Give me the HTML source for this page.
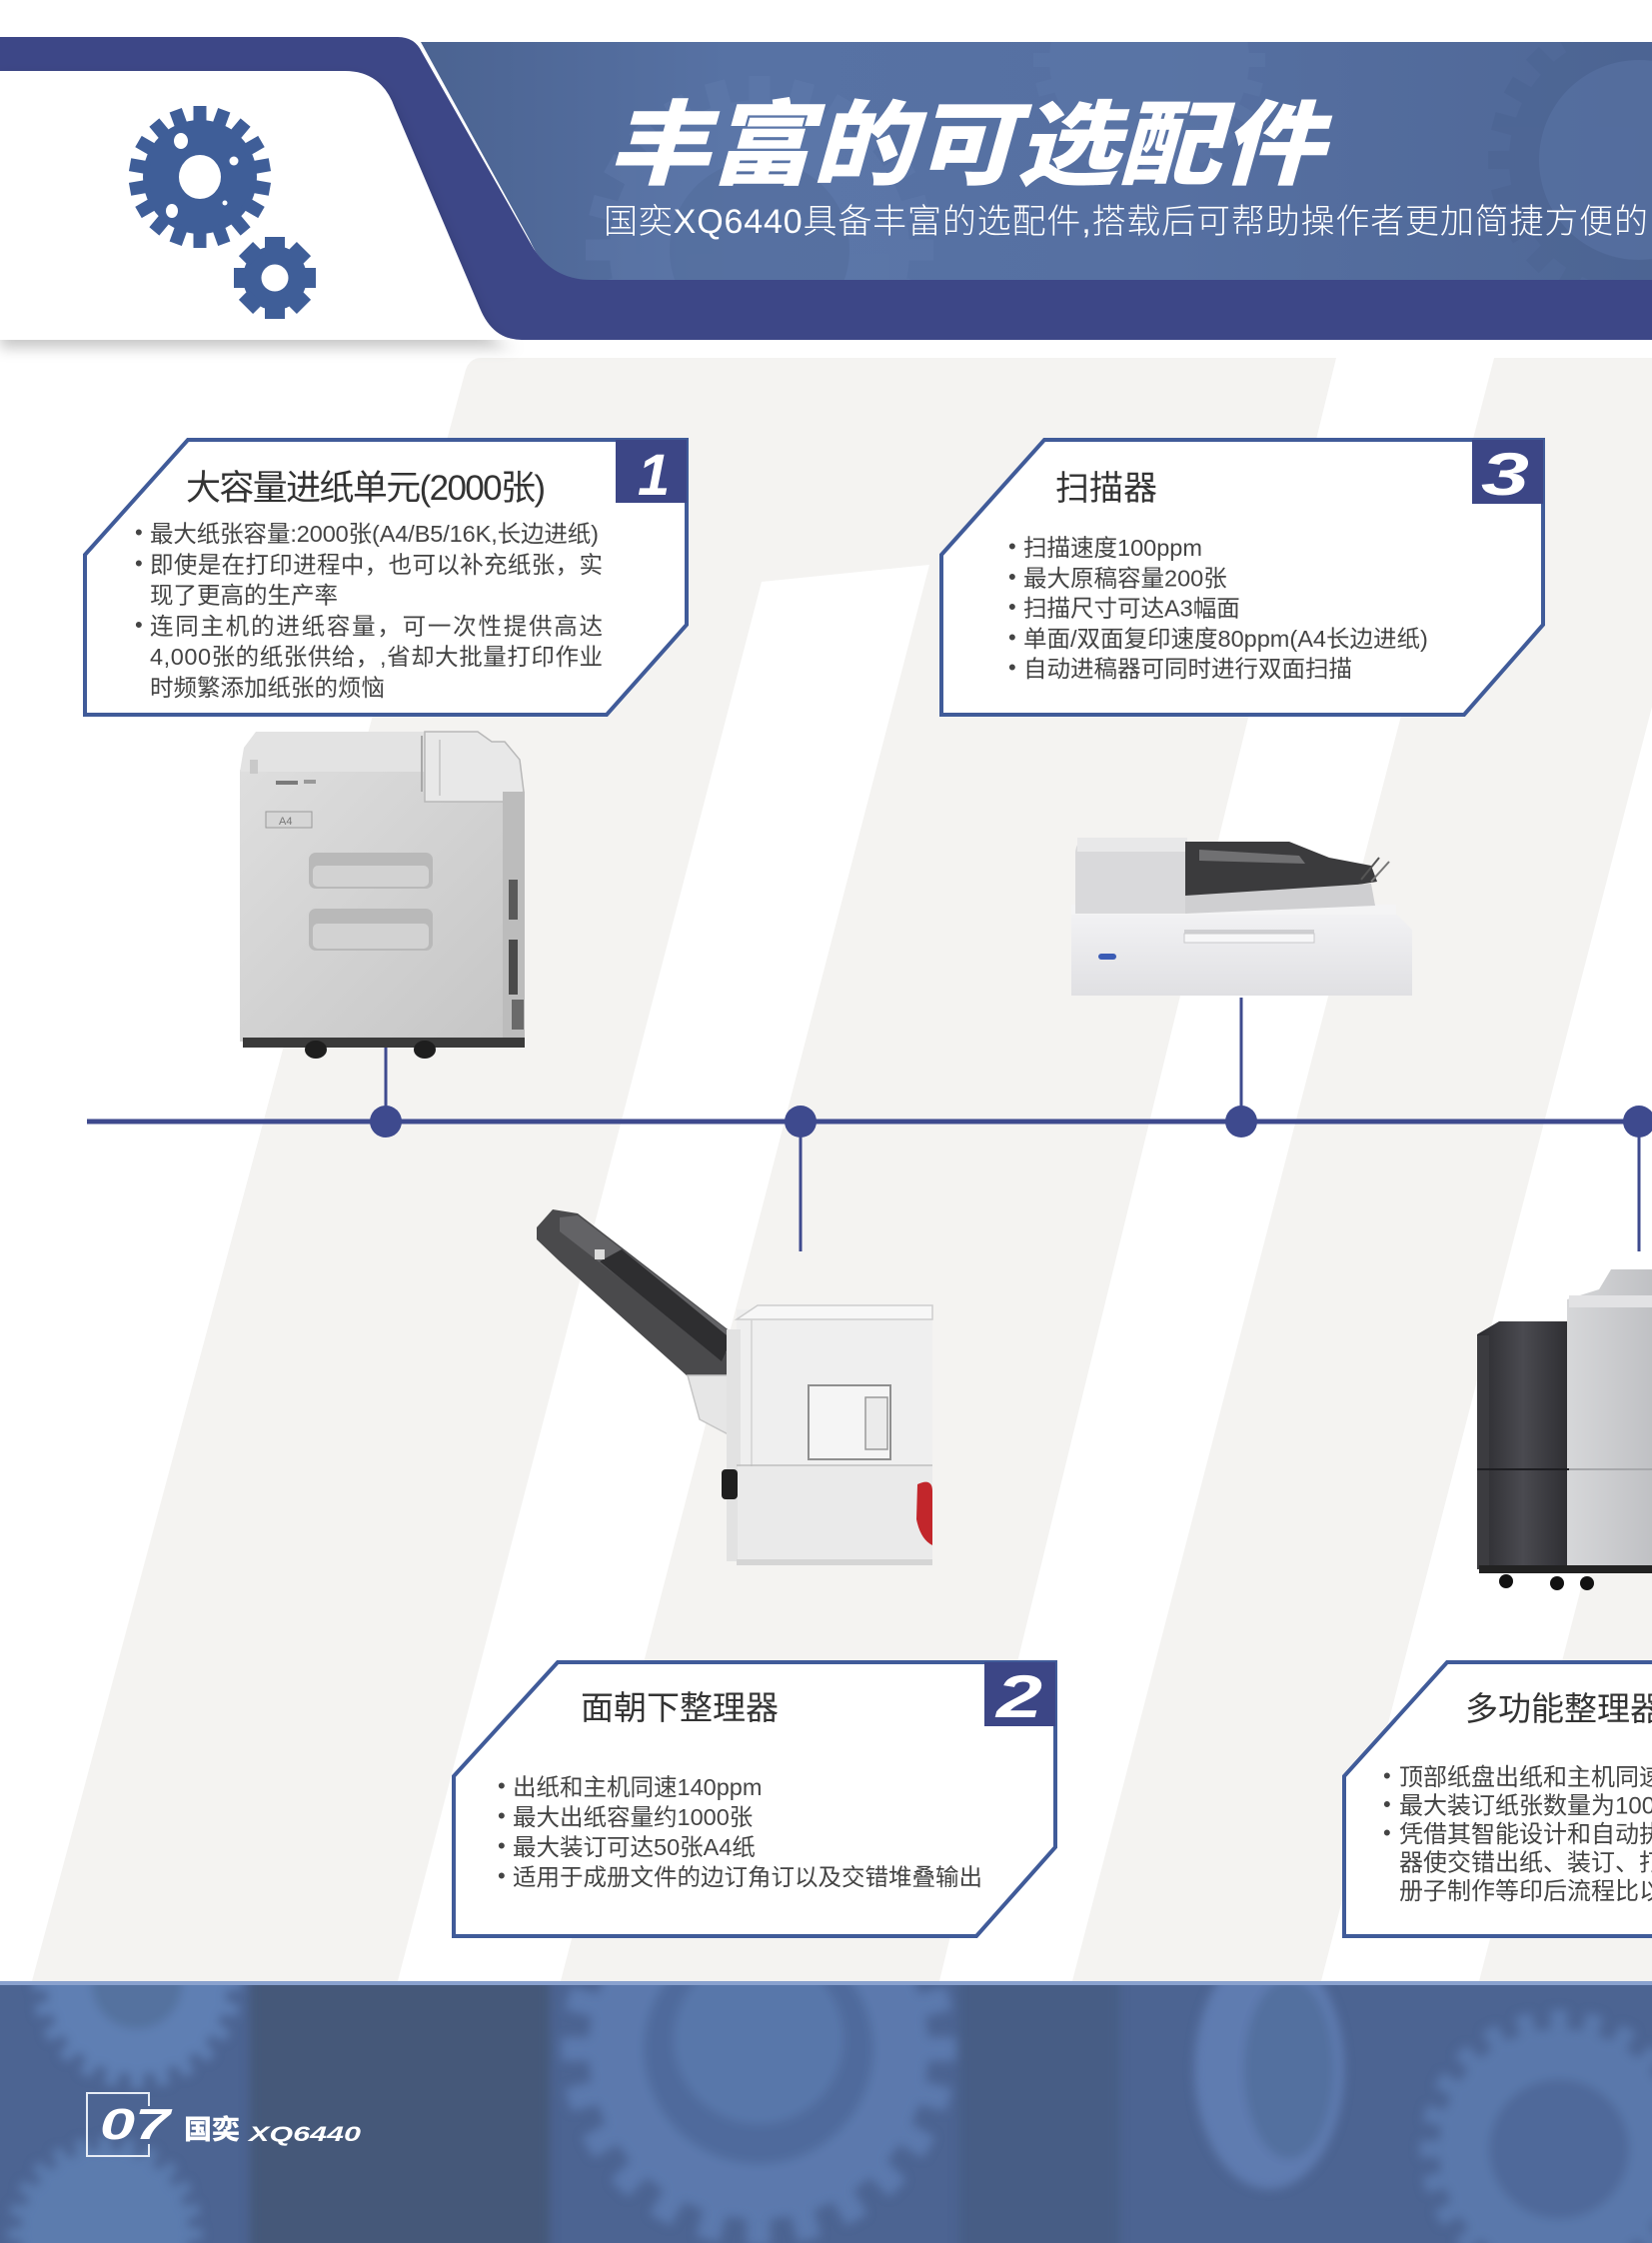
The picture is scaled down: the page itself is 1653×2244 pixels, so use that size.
<!DOCTYPE html>
<html><head><meta charset="utf-8">
<style>
html,body{margin:0;padding:0;background:#fff;width:1653px;height:2244px;overflow:hidden;}
body{position:relative;}
svg{display:block;position:absolute;left:0;top:0;}
text{font-family:"Liberation Sans","Noto Sans CJK SC",sans-serif;}
</style></head><body>
<svg width="1653" height="2244" viewBox="0 0 1653 2244" xmlns="http://www.w3.org/2000/svg">
<defs>
 <filter id="sh" x="-10%" y="-10%" width="130%" height="140%"><feDropShadow dx="0" dy="8" stdDeviation="7" flood-color="#000" flood-opacity="0.22"/></filter>
 <filter id="blur" x="-5%" y="-5%" width="110%" height="110%"><feGaussianBlur stdDeviation="5"/></filter>
 <linearGradient id="photo" x1="0" y1="0" x2="1" y2="0">
   <stop offset="0" stop-color="#4b6391"/>
   <stop offset="0.25" stop-color="#5772a4"/>
   <stop offset="0.6" stop-color="#5670a2"/>
   <stop offset="1" stop-color="#4f6796"/>
 </linearGradient>
 <linearGradient id="g1" x1="0" y1="0" x2="1" y2="1">
   <stop offset="0" stop-color="#dedede"/>
   <stop offset="1" stop-color="#c6c6c6"/>
 </linearGradient>
 <linearGradient id="g4" x1="0" y1="0" x2="1" y2="0">
   <stop offset="0" stop-color="#2b2b2f"/>
   <stop offset="0.5" stop-color="#4a4a50"/>
   <stop offset="1" stop-color="#2e2e32"/>
 </linearGradient>
 <linearGradient id="g4b" x1="0" y1="0" x2="1" y2="0">
   <stop offset="0" stop-color="#d6d7d9"/>
   <stop offset="1" stop-color="#c0c1c4"/>
 </linearGradient>
 <linearGradient id="g3" x1="0" y1="0" x2="0" y2="1">
   <stop offset="0" stop-color="#f2f2f4"/>
   <stop offset="1" stop-color="#e0e0e3"/>
 </linearGradient>
 <rect id="tb" x="-6.5" y="-71" width="13" height="20"/>
 <rect id="ts" x="-10" y="-41" width="20" height="14"/>
 <rect id="tf" x="-14" y="-232" width="28" height="40"/>
 <g id="fgear">
   <circle r="200"/>
   <use href="#tf"/><use href="#tf" transform="rotate(15)"/><use href="#tf" transform="rotate(30)"/><use href="#tf" transform="rotate(45)"/>
   <use href="#tf" transform="rotate(60)"/><use href="#tf" transform="rotate(75)"/><use href="#tf" transform="rotate(90)"/><use href="#tf" transform="rotate(105)"/>
   <use href="#tf" transform="rotate(120)"/><use href="#tf" transform="rotate(135)"/><use href="#tf" transform="rotate(150)"/><use href="#tf" transform="rotate(165)"/>
   <use href="#tf" transform="rotate(180)"/><use href="#tf" transform="rotate(195)"/><use href="#tf" transform="rotate(210)"/><use href="#tf" transform="rotate(225)"/>
   <use href="#tf" transform="rotate(240)"/><use href="#tf" transform="rotate(255)"/><use href="#tf" transform="rotate(270)"/><use href="#tf" transform="rotate(285)"/>
   <use href="#tf" transform="rotate(300)"/><use href="#tf" transform="rotate(315)"/><use href="#tf" transform="rotate(330)"/><use href="#tf" transform="rotate(345)"/>
 </g>
 <clipPath id="photoclip"><path d="M421,42 H1653 V282 H590 Q548,282 530,240 Z"/></clipPath>
 <clipPath id="footclip"><rect x="0" y="1984" width="1653" height="260"/></clipPath>
</defs>

<!-- page background stripes -->
<rect x="0" y="0" width="1653" height="2244" fill="#ffffff"/>
<path d="M482,358 H1337 L940,1982 H32 L466,370 Q470,358 482,358 Z" fill="#f4f3f1"/>
<path d="M762,582 L930,565 L561,1982 L398,1982 Z" fill="#ffffff"/>
<path d="M1495,358 H1653 V707 L1322,1982 H1073 Z" fill="#f4f3f1"/>
<path d="M1653,1315 V1982 H1480 Z" fill="#f4f3f1"/>

<!-- header -->
<path d="M421,42 H1653 V282 H590 Q548,282 530,240 Z" fill="url(#photo)"/>
<g clip-path="url(#photoclip)">
  <g transform="translate(760,250) scale(0.75)" fill="#6681b3" opacity="0.3"><use href="#fgear"/></g>
  <circle cx="760" cy="250" r="90" fill="#4e6696" opacity="0.35"/>
  <g transform="translate(1640,160) scale(0.65)" fill="#4a6290" opacity="0.4"><use href="#fgear"/></g>
  <circle cx="1640" cy="160" r="100" fill="#5b76a8" opacity="0.5"/>
  <g transform="translate(1150,60) scale(0.5)" fill="#6a85b6" opacity="0.2"><use href="#fgear"/></g>
</g>
<path d="M0,37 H398 Q415,37 422,52 L530,242 Q550,280 592,280 H1653 V340 H0 Z" fill="#3d4787"/>
<path d="M0,71 H345 Q382,71 395,108 L480,308 Q493,340 522,340 H0 Z" fill="#ffffff" filter="url(#sh)"/>

<!-- big gear icon -->
<g transform="translate(200,177)" fill="#3f5e98">
  <circle r="57"/>
  <use href="#tb"/><use href="#tb" transform="rotate(20)"/><use href="#tb" transform="rotate(40)"/><use href="#tb" transform="rotate(60)"/>
  <use href="#tb" transform="rotate(80)"/><use href="#tb" transform="rotate(100)"/><use href="#tb" transform="rotate(120)"/><use href="#tb" transform="rotate(140)"/>
  <use href="#tb" transform="rotate(160)"/><use href="#tb" transform="rotate(180)"/><use href="#tb" transform="rotate(200)"/><use href="#tb" transform="rotate(220)"/>
  <use href="#tb" transform="rotate(240)"/><use href="#tb" transform="rotate(260)"/><use href="#tb" transform="rotate(280)"/><use href="#tb" transform="rotate(300)"/>
  <use href="#tb" transform="rotate(320)"/><use href="#tb" transform="rotate(340)"/>
</g>
<ellipse cx="200" cy="177" rx="21" ry="22" fill="#fff"/>
<ellipse cx="181" cy="141" rx="7" ry="8" fill="#fff"/>
<circle cx="234" cy="161" r="4.5" fill="#fff"/>
<ellipse cx="172" cy="211" rx="6" ry="7" fill="#fff"/>
<circle cx="225" cy="203" r="2.5" fill="#fff"/>
<!-- small gear icon -->
<g transform="translate(275,278)" fill="#3f5e98">
  <circle r="32"/>
  <use href="#ts"/><use href="#ts" transform="rotate(45)"/><use href="#ts" transform="rotate(90)"/><use href="#ts" transform="rotate(135)"/>
  <use href="#ts" transform="rotate(180)"/><use href="#ts" transform="rotate(225)"/><use href="#ts" transform="rotate(270)"/><use href="#ts" transform="rotate(315)"/>
</g>
<ellipse cx="275" cy="278" rx="13.5" ry="13.5" fill="#fff"/>

<text x="608" y="177" font-size="92" font-weight="900" font-style="italic" fill="#fff" textLength="716" lengthAdjust="spacingAndGlyphs">丰富的可选配件</text>
<text x="604" y="233" font-size="34" font-weight="300" fill="#fff" textLength="1045" lengthAdjust="spacing">国奕XQ6440具备丰富的选配件,搭载后可帮助操作者更加简捷方便的</text>

<!-- timeline -->
<rect x="87" y="1119.5" width="1566" height="5" fill="#3e4a8e"/>
<line x1="386" y1="1045" x2="386" y2="1122" stroke="#3e4a8e" stroke-width="3"/>
<line x1="801" y1="1122" x2="801" y2="1252" stroke="#3e4a8e" stroke-width="3"/>
<line x1="1242" y1="998" x2="1242" y2="1122" stroke="#3e4a8e" stroke-width="3"/>
<line x1="1640" y1="1122" x2="1640" y2="1252" stroke="#3e4a8e" stroke-width="3"/>
<circle cx="386" cy="1122" r="16" fill="#3e4a8e"/>
<circle cx="801" cy="1122" r="16" fill="#3e4a8e"/>
<circle cx="1242" cy="1122" r="16" fill="#3e4a8e"/>
<circle cx="1640" cy="1122" r="16" fill="#3e4a8e"/>

<!-- printer 1: paper feeder -->
<g>
  <rect x="240" y="770" width="266" height="272" fill="url(#g1)"/>
  <path d="M244,748 L256,732 H430 V772 H240 Z" fill="#e3e3e3"/>
  <path d="M425,732 H478 L492,742 H505 L520,760 L524,792 L508,802 H425 Z" fill="#e8e8e8" stroke="#b8b8b8" stroke-width="1.5"/>
  <line x1="422" y1="736" x2="422" y2="792" stroke="#a8a8a8" stroke-width="2"/>
  <line x1="440" y1="740" x2="440" y2="796" stroke="#c4c4c4" stroke-width="1.5"/>
  <rect x="250" y="760" width="8" height="14" fill="#c9c9c9"/>
  <rect x="276" y="781" width="22" height="4" fill="#7a7a7a"/>
  <rect x="304" y="780" width="12" height="4" fill="#999"/>
  <rect x="266" y="812" width="46" height="16" fill="#d6d6d6" stroke="#9a9a9a" stroke-width="1"/>
  <text x="279" y="825" font-size="11" fill="#777">A4</text>
  <rect x="309" y="853" width="124" height="36" rx="7" fill="#b9b9b9"/>
  <rect x="313" y="866" width="116" height="21" rx="5" fill="#d2d2d2"/>
  <rect x="309" y="909" width="124" height="42" rx="7" fill="#b9b9b9"/>
  <rect x="313" y="924" width="116" height="25" rx="5" fill="#d2d2d2"/>
  <rect x="503" y="792" width="22" height="250" fill="#bcbcbc"/>
  <rect x="509" y="880" width="9" height="40" fill="#5a5a5a"/>
  <rect x="509" y="940" width="9" height="55" fill="#4a4a4a"/>
  <rect x="512" y="1000" width="12" height="30" fill="#6a6a6a"/>
  <rect x="243" y="1038" width="282" height="10" fill="#3a3a3a"/>
  <ellipse cx="316" cy="1050" rx="11" ry="9" fill="#1e1e1e"/>
  <ellipse cx="425" cy="1050" rx="11" ry="9" fill="#1e1e1e"/>
</g>

<!-- printer 3: scanner -->
<g>
  <path d="M1072,912 H1395 L1413,930 V996 H1072 Z" fill="url(#g3)"/>
  <rect x="1072" y="905" width="325" height="10" fill="#f4f4f5"/>
  <path d="M1076,852 Q1078,838 1092,838 H1188 V914 H1076 Z" fill="#d9d9db"/>
  <rect x="1078" y="838" width="110" height="14" fill="#e8e8e9"/>
  <path d="M1186,842 H1290 L1330,858 L1372,866 L1378,882 L1340,888 L1186,900 Z" fill="#3b3b3d"/>
  <path d="M1200,850 L1300,856 L1306,864 L1200,861 Z" fill="#707072"/>
  <path d="M1186,896 L1372,884 L1376,906 L1186,914 Z" fill="#cfcfd1"/>
  <line x1="1362" y1="880" x2="1380" y2="858" stroke="#555" stroke-width="2"/>
  <line x1="1372" y1="882" x2="1390" y2="862" stroke="#777" stroke-width="2"/>
  <rect x="1185" y="930" width="130" height="4" fill="#cfcfd2"/>
  <rect x="1185" y="934" width="130" height="9" fill="#f7f7f8" stroke="#c8c8cb" stroke-width="1"/>
  <rect x="1099" y="954" width="18" height="6" rx="3" fill="#3b5cb5"/>
</g>

<!-- printer 2: face-down finisher -->
<g>
  <path d="M537,1228 L553,1210 L578,1214 L745,1343 L745,1398 L707,1394 L560,1262 L537,1240 Z" fill="#4a4a4c"/>
  <path d="M560,1218 L578,1216 L740,1340 L740,1356 L712,1350 L560,1232 Z" fill="#636366"/>
  <path d="M600,1262 L622,1250 L732,1340 L722,1362 Z" fill="#2e2e30"/>
  <rect x="595" y="1250" width="10" height="10" fill="#dcdcdc"/>
  <path d="M688,1376 H742 V1442 L700,1420 Z" fill="#e6e6e6" stroke="#c6c6c6" stroke-width="1.5"/>
  <rect x="737" y="1310" width="196" height="255" fill="#efefef"/>
  <path d="M737,1320 L758,1306 H933 V1320 Z" fill="#f7f7f7" stroke="#cdcdcd" stroke-width="1.5"/>
  <rect x="727" y="1330" width="14" height="232" fill="#e2e2e2"/>
  <line x1="752" y1="1320" x2="752" y2="1562" stroke="#d2d2d2" stroke-width="1.5"/>
  <rect x="809" y="1386" width="82" height="74" fill="#f5f5f5" stroke="#8f8f8f" stroke-width="2"/>
  <rect x="866" y="1398" width="22" height="52" fill="#ebebeb" stroke="#9a9a9a" stroke-width="1.5"/>
  <line x1="737" y1="1466" x2="933" y2="1466" stroke="#bdbdbd" stroke-width="1.5"/>
  <rect x="738" y="1467" width="195" height="96" fill="#eaeaea"/>
  <path d="M918,1485 Q933,1478 933,1492 V1546 Q921,1540 917,1520 Z" fill="#c2262b"/>
  <rect x="722" y="1470" width="16" height="30" rx="4" fill="#1f1f1f"/>
  <rect x="737" y="1560" width="196" height="6" fill="#d5d5d5"/>
</g>

<!-- printer 4: multifunction finisher -->
<g>
  <path d="M1478,1335 L1500,1322 H1570 V1570 H1478 Z" fill="url(#g4)"/>
  <rect x="1478" y="1336" width="12" height="234" fill="#3c3c40"/>
  <path d="M1568,1300 L1600,1290 L1612,1270 H1653 V1572 H1568 Z" fill="url(#g4b)"/>
  <rect x="1570" y="1296" width="83" height="12" fill="#e2e2e4"/>
  <line x1="1478" y1="1470" x2="1570" y2="1470" stroke="#1e1e22" stroke-width="2"/>
  <line x1="1570" y1="1470" x2="1653" y2="1470" stroke="#a8a9ac" stroke-width="2"/>
  <rect x="1480" y="1566" width="173" height="8" fill="#222"/>
  <circle cx="1507" cy="1582" r="7" fill="#111"/>
  <circle cx="1558" cy="1584" r="7" fill="#111"/>
  <circle cx="1588" cy="1584" r="7" fill="#111"/>
</g>

<!-- Box 1 -->
<polygon points="85,555 188,440 687,440 687,625 607,715 85,715" fill="#fff" stroke="#405b99" stroke-width="4" stroke-linejoin="miter"/>
<rect x="616" y="440" width="71" height="63" fill="#3c4686"/>
<text x="638" y="495" font-size="58" font-weight="bold" font-style="italic" fill="#fff">1</text>
<text x="186" y="500" font-size="35" fill="#333" textLength="360" lengthAdjust="spacing">大容量进纸单元(2000张)</text>
<g font-size="23.5" fill="#444">
  <text x="135" y="540" font-size="22">•</text>
  <text x="150" y="542" textLength="449" lengthAdjust="spacing">最大纸张容量:2000张(A4/B5/16K,长边进纸)</text>
  <text x="135" y="570.8" font-size="22">•</text>
  <text x="150" y="572.8" textLength="453" lengthAdjust="spacing">即使是在打印进程中，也可以补充纸张，实</text>
  <text x="150" y="603.6">现了更高的生产率</text>
  <text x="135" y="632.4" font-size="22">•</text>
  <text x="150" y="634.4" textLength="453" lengthAdjust="spacing">连同主机的进纸容量，可一次性提供高达</text>
  <text x="150" y="665.2" textLength="453" lengthAdjust="spacing">4,000张的纸张供给，,省却大批量打印作业</text>
  <text x="150" y="696">时频繁添加纸张的烦恼</text>
</g>

<!-- Box 3 -->
<polygon points="942,555 1045,440 1544,440 1544,625 1465,715 942,715" fill="#fff" stroke="#405b99" stroke-width="4"/>
<rect x="1473" y="440" width="71" height="64" fill="#3c4686"/>
<text x="1482" y="495" font-size="60" font-weight="bold" font-style="italic" fill="#fff" textLength="48" lengthAdjust="spacingAndGlyphs">3</text>
<text x="1056" y="500" font-size="34" fill="#333">扫描器</text>
<g font-size="23.5" fill="#444">
  <text x="1009" y="554" font-size="22">•</text><text x="1024" y="556">扫描速度100ppm</text>
  <text x="1009" y="584.3" font-size="22">•</text><text x="1024" y="586.3">最大原稿容量200张</text>
  <text x="1009" y="614.6" font-size="22">•</text><text x="1024" y="616.6">扫描尺寸可达A3幅面</text>
  <text x="1009" y="644.9" font-size="22">•</text><text x="1024" y="646.9">单面/双面复印速度80ppm(A4长边进纸)</text>
  <text x="1009" y="675.2" font-size="22">•</text><text x="1024" y="677.2">自动进稿器可同时进行双面扫描</text>
</g>

<!-- Box 2 -->
<polygon points="454,1777 558,1663 1056,1663 1056,1848 977,1937 454,1937" fill="#fff" stroke="#405b99" stroke-width="4"/>
<rect x="985" y="1663" width="71" height="64" fill="#3c4686"/>
<text x="997" y="1718" font-size="60" font-weight="bold" font-style="italic" fill="#fff" textLength="46" lengthAdjust="spacingAndGlyphs">2</text>
<text x="581" y="1720" font-size="33" fill="#333">面朝下整理器</text>
<g font-size="23.5" fill="#444">
  <text x="498" y="1794" font-size="22">•</text><text x="513" y="1796">出纸和主机同速140ppm</text>
  <text x="498" y="1824" font-size="22">•</text><text x="513" y="1826">最大出纸容量约1000张</text>
  <text x="498" y="1854" font-size="22">•</text><text x="513" y="1856">最大装订可达50张A4纸</text>
  <text x="498" y="1884" font-size="22">•</text><text x="513" y="1886">适用于成册文件的边订角订以及交错堆叠输出</text>
</g>

<!-- Box 4 -->
<polygon points="1345,1777 1448,1663 1662,1663 1662,1937 1345,1937" fill="#fff" stroke="#405b99" stroke-width="4"/>
<text x="1466" y="1721" font-size="33" fill="#333">多功能整理器</text>
<g font-size="24" fill="#444">
  <text x="1384" y="1784" font-size="22">•</text><text x="1400" y="1786">顶部纸盘出纸和主机同速140ppm</text>
  <text x="1384" y="1812.5" font-size="22">•</text><text x="1400" y="1814.5">最大装订纸张数量为100张</text>
  <text x="1384" y="1841" font-size="22">•</text><text x="1400" y="1843">凭借其智能设计和自动执行功能，该整理</text>
  <text x="1400" y="1871.5">器使交错出纸、装订、打孔、折叠以及小</text>
  <text x="1400" y="1900">册子制作等印后流程比以往更加简单</text>
</g>

<!-- footer -->
<rect x="0" y="1982" width="1653" height="262" fill="#4c6492"/>
<g clip-path="url(#footclip)">
 <g filter="url(#blur)">
  <rect x="250" y="1970" width="300" height="290" fill="#445879"/>
  <rect x="960" y="1970" width="160" height="290" fill="#475d85"/>
  <g transform="translate(137,1985) scale(0.45)" fill="#5f7fb3"><use href="#fgear"/></g>
  <circle cx="137" cy="1985" r="45" fill="#55729f"/>
  <g transform="translate(105,2235) scale(0.42)" fill="#5c7bae"><use href="#fgear"/></g>
  <g transform="translate(759,2050) scale(0.85)" fill="#5b79ad"><use href="#fgear"/></g>
  <circle cx="759" cy="2050" r="115" fill="#4f6b9c"/>
  <circle cx="759" cy="2040" r="85" fill="#5877aa"/>
  <ellipse cx="1270" cy="2070" rx="75" ry="120" fill="#5e7cb0"/>
  <ellipse cx="1290" cy="2070" rx="45" ry="90" fill="#52709f"/>
  <g transform="translate(1560,2150) scale(0.6)" fill="#5a78ab"><use href="#fgear"/></g>
  <circle cx="1560" cy="2150" r="70" fill="#50699a"/>
 </g>
</g>
<rect x="0" y="1982" width="1653" height="4" fill="#8aa2cf"/>
<path d="M149,2107 V2094 H87 V2157 H149 V2145" fill="none" stroke="#e6ecf5" stroke-width="2"/>
<text x="100" y="2140" font-size="44" font-weight="bold" font-style="italic" fill="#fff" textLength="70" lengthAdjust="spacingAndGlyphs">07</text>
<text x="184" y="2140" font-size="27" font-weight="900" fill="#fff" textLength="56" lengthAdjust="spacingAndGlyphs">国奕</text>
<text x="249" y="2142" font-size="21" font-weight="bold" font-style="italic" fill="#fff" textLength="112" lengthAdjust="spacingAndGlyphs">XQ6440</text>
</svg>
</body></html>
